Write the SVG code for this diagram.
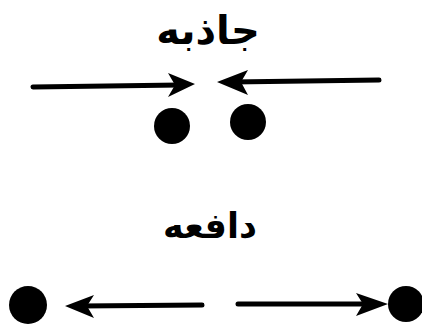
<svg xmlns="http://www.w3.org/2000/svg" width="422" height="325" viewBox="0 0 422 325">
<style>
.t{font-family:"DejaVu Sans",sans-serif;font-weight:bold;font-size:40px;fill:#000;text-anchor:middle}
.ln{stroke:#000;stroke-width:5;fill:none;stroke-linecap:round}
.hd{fill:#000}
</style>
<rect width="422" height="325" fill="#fff"/>
<g id="attraction-label"><text class="t" x="208" y="44">جاذبه</text></g>
<g id="repulsion-label"><text class="t" x="210" y="238" style="font-size:35px">دافعه</text></g>
<g id="dot1"><circle cx="172" cy="126" r="18"/></g>
<g id="dot2"><circle cx="248" cy="122" r="18"/></g>
<g id="dot3"><circle cx="28" cy="305" r="19"/></g>
<g id="dot4"><circle cx="406" cy="304" r="18"/></g>
<g id="connectors">
<line class="ln" x1="33" y1="87" x2="180" y2="85"/>
<path class="hd" d="M195,84 L168,73 L175,85 L168,97 Z"/>
<line class="ln" x1="232" y1="82" x2="379" y2="80"/>
<path class="hd" d="M217,82 L248,70 L241,82 L248,95 Z"/>
<line class="ln" x1="80" y1="306" x2="202" y2="305"/>
<path class="hd" d="M65,306 L94,295 L87,306 L94,318 Z"/>
<line class="ln" x1="238" y1="304" x2="372" y2="304"/>
<path class="hd" d="M388,304 L356,293 L363,304 L356,316 Z"/>
</g>
</svg>
